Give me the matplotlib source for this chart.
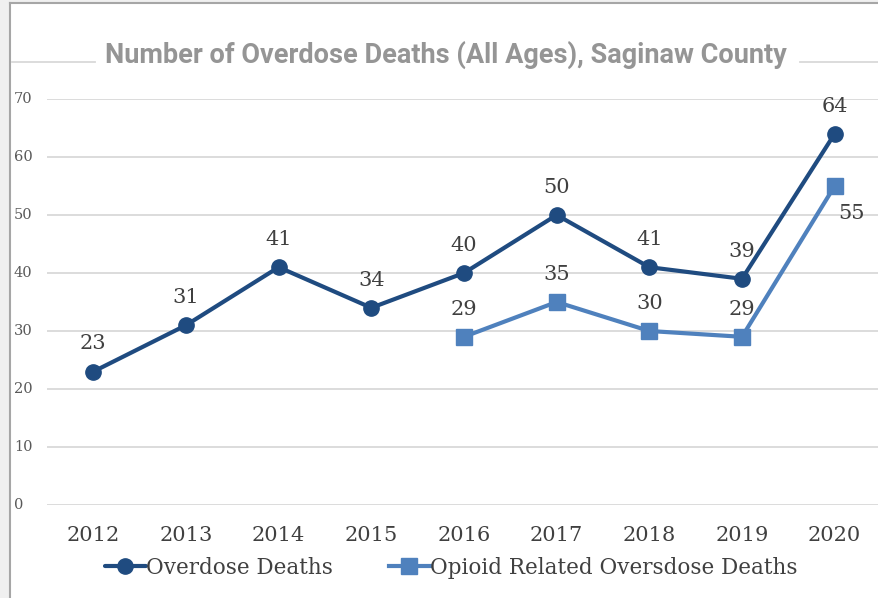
import matplotlib
matplotlib.use("Agg")
import matplotlib.pyplot as plt
import matplotlib.transforms as mtransforms
from matplotlib.patches import Rectangle
from matplotlib.lines import Line2D

years = ["2012", "2013", "2014", "2015", "2016", "2017", "2018", "2019", "2020"]
overdose = [23, 31, 41, 34, 40, 50, 41, 39, 64]
opioid_years = ["2016", "2017", "2018", "2019", "2020"]
opioid = [29, 35, 30, 29, 55]
yticks = [0, 10, 20, 30, 40, 50, 60, 70]

title = "Number of Overdose Deaths (All Ages), Saginaw County"
dark = "#1f4b80"
light = "#4f81bd"
txt = "#404040"
serif = ["DejaVu Serif"]

W, H = 879, 598
fig = plt.figure(figsize=(W / 100, H / 100), dpi=100)
fig.patch.set_facecolor("white")

# frame decorations (screenshot edges)
fig.add_artist(Rectangle((0, 0), 10 / W, 1, transform=fig.transFigure, facecolor="#f0f0f0", edgecolor="none"))
fig.add_artist(Rectangle((0, 1 - 3 / H), 1, 3 / H, transform=fig.transFigure, facecolor="#f0f0f0", edgecolor="none"))
fig.add_artist(Line2D([10 / W, 10 / W], [0, 1 - 3 / H], transform=fig.transFigure, color="#a6a6a6", lw=1.5))
fig.add_artist(Line2D([10 / W, 1], [1 - 3 / H, 1 - 3 / H], transform=fig.transFigure, color="#a6a6a6", lw=1.5))

ax = fig.add_axes([47 / W, (H - 505) / H, (881 - 47) / W, (505 - 99) / H])
ax.set_facecolor("none")
x_all = list(range(len(years)))
x_op = [years.index(y) for y in opioid_years]

ax.set_xlim(-0.5, len(years) - 0.5)
ax.set_ylim(0, 70)
ax.set_yticks(yticks)
for v in yticks:
    ax.axhline(v, color="#d9d9d9", lw=1.3, zorder=0)
for s in ax.spines.values():
    s.set_visible(False)
ax.tick_params(axis="y", left=False, labelleft=False)
ax.set_xticks(x_all)
ax.set_xticklabels(years, fontfamily=serif, fontsize=15, color=txt)
ax.tick_params(axis="x", length=0, pad=15)

blend = mtransforms.blended_transform_factory(fig.transFigure, ax.transData)
for v in yticks:
    fig.text(14 / W, v, str(v), transform=blend, ha="left", va="center",
             fontfamily=serif, fontsize=10.5, color="#595959")

ax.plot(x_all, overdose, color=dark, lw=3, marker="o", ms=11, zorder=3, label="Overdose Deaths",
        solid_capstyle="round")
ax.plot(x_op, opioid, color=light, lw=3, marker="s", ms=12, zorder=4, label="Opioid Related Oversdose Deaths")

for xi, v in zip(x_all, overdose):
    ax.annotate(str(v), (xi, v), xytext=(0, 20), textcoords="offset points", ha="center", va="center",
                fontfamily=serif, fontsize=15, color=txt)
for xi, v in zip(x_op, opioid):
    if xi == len(years) - 1:
        ax.annotate(str(v), (xi, v), xytext=(12, -20), textcoords="offset points", ha="center", va="center",
                    fontfamily=serif, fontsize=15, color=txt)
    else:
        ax.annotate(str(v), (xi, v), xytext=(0, 20), textcoords="offset points", ha="center", va="center",
                    fontfamily=serif, fontsize=15, color=txt)

leg = ax.legend(loc="center", bbox_to_anchor=(451 / W, (H - 568) / H), bbox_transform=fig.transFigure,
                ncol=2, frameon=False, prop={"family": serif, "size": 15.5}, handlelength=1.9,
                handletextpad=0.0, columnspacing=2.6, labelcolor=txt)

# title with flanking lines
t = fig.text(446 / W, 1 - 55 / H, title, ha="center", va="center", fontsize=19.5, fontweight="bold",
             color="#959595", family=["Roboto", "DejaVu Sans"])
fig.add_artist(Line2D([12 / W, 95 / W], [1 - 62 / H] * 2, transform=fig.transFigure, color="#d9d9d9", lw=1.3))
fig.add_artist(Line2D([800 / W, 1], [1 - 62 / H] * 2, transform=fig.transFigure, color="#d9d9d9", lw=1.3))

fig.savefig("out.png", dpi=100)
